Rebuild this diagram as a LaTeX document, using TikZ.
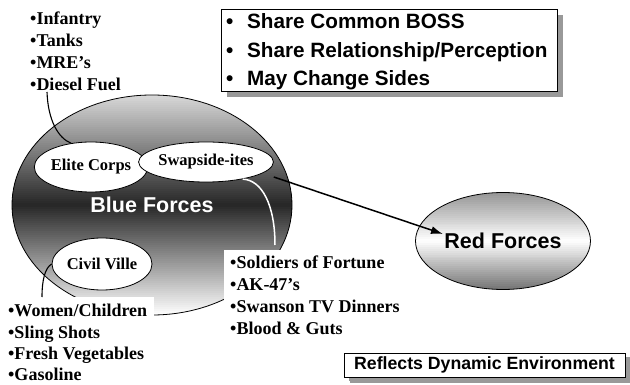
\documentclass[tikz,border=0pt]{standalone}
\usepackage{fontspec}
\setmainfont{Liberation Serif}
\setsansfont{Liberation Sans}
\usetikzlibrary{shapes.geometric,arrows.meta,shadows,calc}
\begin{document}
\begin{tikzpicture}[x=1pt,y=1pt,
  listtext/.style={anchor=north west, inner sep=0pt, align=left, font=\fontsize{18}{22}\selectfont\bfseries},
  oval/.style={ellipse, draw=black, line width=0.8pt, fill=white, inner sep=0pt, font=\fontsize{16.5}{18}\selectfont\bfseries},
  shadowbox/.style={draw=black, line width=0.8pt, fill=white, inner sep=0pt, drop shadow={shadow xshift=6pt, shadow yshift=-6pt, fill=black!40, opacity=1}},
  connector/.style={line width=1.1pt}]
\useasboundingbox (0,-385) rectangle (630,0);

% Blue forces gradient (light top, dark middle, white bottom)
\begin{scope}
  \clip (152,-205) ellipse [x radius=140, y radius=110];
  \foreach \i in {0,...,109} {
    \pgfmathsetmacro\t{(\i+0.5)/110}
    \pgfmathsetmacro\p{\t<0.5 ? 15+70*\t/0.5 : 85*(1-\t)/0.5}
    \fill[black!\p] (10,{-95-2*\i}) rectangle (295,{-97.6-2*\i});
  }
\end{scope}
% Red forces gradient (gray top, white middle, darker bottom)
\begin{scope}
  \clip (503,-241) ellipse [x radius=87.5, y radius=48.5];
  \foreach \i in {0,...,49} {
    \pgfmathsetmacro\t{(\i+0.5)/50}
    \pgfmathsetmacro\p{\t<0.5 ? 42*(1-\t/0.5) : 55*(\t-0.5)/0.5}
    \fill[black!\p] (413,{-192.5-1.94*\i}) rectangle (593,{-195-1.94*\i});
  }
\end{scope}

\node[ellipse, draw=black, line width=0.8pt, minimum width=280pt, minimum height=220pt, inner sep=0pt, text=white,
  font=\fontsize{21.5}{24}\selectfont\sffamily\bfseries] (blue) at (152,-205) {Blue Forces};

\node[oval, minimum width=100pt, minimum height=50pt] (elite) at (91,-167) {Elite Corps};
\node[oval, minimum width=118pt, minimum height=40pt] (swap) at (206,-162) {Swapside-ites};
\node[oval, minimum width=100pt, minimum height=52pt] (civil) at (102,-264) {Civil Ville};

\node[ellipse, draw=black, line width=0.8pt, minimum width=175pt, minimum height=97pt, inner sep=0pt,
  font=\fontsize{21.5}{24}\selectfont\sffamily\bfseries] (red) at (503,-241) {Red Forces};

% lists
\node[listtext] (infantry) at (30,-12) {•Infantry\\•Tanks\\•MRE’s\\•Diesel Fuel};
\node[listtext, fill=white, inner sep=6pt] (soldiers) at (224,-250) {•Soldiers of Fortune\\•AK-47’s\\•Swanson TV Dinners\\•Blood \& Guts};
\node[listtext, fill=white, inner sep=7pt, font=\fontsize{18}{21.4}\selectfont\bfseries] (women) at (1,-297) {•Women/Children\\•Sling Shots\\•Fresh Vegetables\\•Gasoline};

% boxes
\node[shadowbox, minimum width=336pt, minimum height=82pt] (bossbox) at (389,-50) {};
\node[anchor=west, inner sep=0pt, align=left, font=\fontsize{20.7}{28.5}\selectfont\sffamily\bfseries] (bosstext) at (226,-52)
  {\makebox[21pt][l]{•}Share Common BOSS\\\makebox[21pt][l]{•}Share Relationship/Perception\\\makebox[21pt][l]{•}May Change Sides};

\node[shadowbox, drop shadow={shadow xshift=5pt, shadow yshift=-4pt, fill=black!40, opacity=1},
  minimum width=281pt, minimum height=24pt, font=\fontsize{17.7}{20}\selectfont\sffamily\bfseries] (reflects) at (484.5,-365) {Reflects Dynamic Environment};

% connectors
\coordinate (infend) at (47,-92);
\draw[connector] (infend) .. controls (48,-120) and (58,-138) .. (elite.130);
\coordinate (womenend) at (42,-297);
\draw[connector] (civil.west) .. controls (45,-268) and (42,-280) .. (womenend);
\coordinate (soldend) at (275,-245);
\draw[connector, white, line width=1.5pt] (swap.-25) .. controls (262,-180) and (275,-205) .. (soldend);
\coordinate (arrstart) at ($(swap.east)+(0,-15)$);
\coordinate (arrtip) at ($(red.center)+(-60,7)$);
\draw[line width=1.5pt, -{Latex[length=12pt,width=8pt]}] (arrstart) -- (arrtip);
\end{tikzpicture}
\end{document}
